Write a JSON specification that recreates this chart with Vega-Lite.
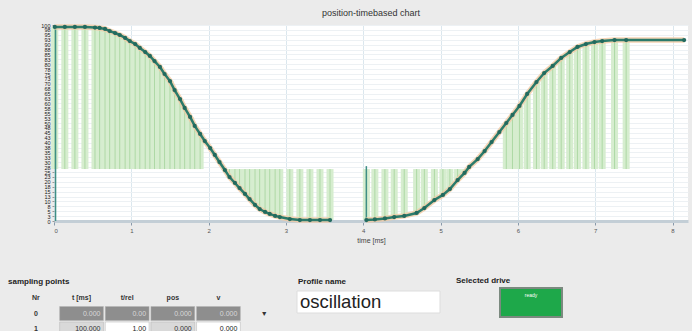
{
  "$schema": "https://vega.github.io/schema/vega-lite/v6.json",
  "background": "#ebebeb",
  "padding": {"left": 0, "top": 8, "right": 0, "bottom": 0},
  "spacing": 34,
  "config": {"view": {"stroke": null}, "font": "Liberation Sans"},
  "datasets": {
    "curve": [
      {"seg": "a", "t": 0.01, "v": 99.0}, {"seg": "a", "t": 0.14, "v": 99.0}, {"seg": "a", "t": 0.27, "v": 99.0},
      {"seg": "a", "t": 0.40, "v": 99.0}, {"seg": "a", "t": 0.53, "v": 98.7}, {"seg": "a", "t": 0.59, "v": 98.5},
      {"seg": "a", "t": 0.66, "v": 98.0}, {"seg": "a", "t": 0.72, "v": 96.9}, {"seg": "a", "t": 0.79, "v": 95.9},
      {"seg": "a", "t": 0.85, "v": 94.9}, {"seg": "a", "t": 0.92, "v": 93.4}, {"seg": "a", "t": 0.98, "v": 91.8},
      {"seg": "a", "t": 1.05, "v": 90.3}, {"seg": "a", "t": 1.11, "v": 88.3}, {"seg": "a", "t": 1.18, "v": 86.2},
      {"seg": "a", "t": 1.24, "v": 84.2}, {"seg": "a", "t": 1.30, "v": 81.6}, {"seg": "a", "t": 1.37, "v": 78.6},
      {"seg": "a", "t": 1.43, "v": 75.0}, {"seg": "a", "t": 1.50, "v": 71.4}, {"seg": "a", "t": 1.56, "v": 66.8},
      {"seg": "a", "t": 1.63, "v": 62.2}, {"seg": "a", "t": 1.69, "v": 57.7}, {"seg": "a", "t": 1.76, "v": 53.1},
      {"seg": "a", "t": 1.82, "v": 48.5}, {"seg": "a", "t": 1.89, "v": 44.4}, {"seg": "a", "t": 1.95, "v": 40.8},
      {"seg": "a", "t": 2.02, "v": 37.2}, {"seg": "a", "t": 2.08, "v": 33.7}, {"seg": "a", "t": 2.14, "v": 30.1},
      {"seg": "a", "t": 2.21, "v": 26.0}, {"seg": "a", "t": 2.27, "v": 22.4}, {"seg": "a", "t": 2.34, "v": 19.4},
      {"seg": "a", "t": 2.40, "v": 16.8}, {"seg": "a", "t": 2.47, "v": 13.8}, {"seg": "a", "t": 2.53, "v": 11.2},
      {"seg": "a", "t": 2.60, "v": 8.2}, {"seg": "a", "t": 2.66, "v": 6.1}, {"seg": "a", "t": 2.73, "v": 4.6},
      {"seg": "a", "t": 2.79, "v": 3.6}, {"seg": "a", "t": 2.86, "v": 2.6}, {"seg": "a", "t": 2.92, "v": 2.0},
      {"seg": "a", "t": 3.05, "v": 1.0}, {"seg": "a", "t": 3.18, "v": 0.5}, {"seg": "a", "t": 3.31, "v": 0.5},
      {"seg": "a", "t": 3.44, "v": 0.5}, {"seg": "a", "t": 3.57, "v": 0.5},
      {"seg": "b", "t": 4.04, "v": 0.5}, {"seg": "b", "t": 4.15, "v": 0.8}, {"seg": "b", "t": 4.28, "v": 1.3},
      {"seg": "b", "t": 4.40, "v": 2.0}, {"seg": "b", "t": 4.53, "v": 2.6}, {"seg": "b", "t": 4.69, "v": 4.1},
      {"seg": "b", "t": 4.79, "v": 6.6}, {"seg": "b", "t": 4.92, "v": 10.7}, {"seg": "b", "t": 5.03, "v": 13.3},
      {"seg": "b", "t": 5.12, "v": 16.3}, {"seg": "b", "t": 5.22, "v": 20.9}, {"seg": "b", "t": 5.31, "v": 24.5},
      {"seg": "b", "t": 5.37, "v": 27.6}, {"seg": "b", "t": 5.48, "v": 31.6}, {"seg": "b", "t": 5.57, "v": 35.7},
      {"seg": "b", "t": 5.66, "v": 40.3}, {"seg": "b", "t": 5.76, "v": 45.4}, {"seg": "b", "t": 5.85, "v": 50.0},
      {"seg": "b", "t": 5.93, "v": 54.1}, {"seg": "b", "t": 6.02, "v": 58.7}, {"seg": "b", "t": 6.12, "v": 64.8},
      {"seg": "b", "t": 6.24, "v": 70.9}, {"seg": "b", "t": 6.34, "v": 75.5}, {"seg": "b", "t": 6.45, "v": 79.1},
      {"seg": "b", "t": 6.56, "v": 83.2}, {"seg": "b", "t": 6.67, "v": 86.2}, {"seg": "b", "t": 6.77, "v": 88.8},
      {"seg": "b", "t": 6.88, "v": 90.3}, {"seg": "b", "t": 6.99, "v": 91.3}, {"seg": "b", "t": 7.09, "v": 91.8},
      {"seg": "b", "t": 7.25, "v": 92.3}, {"seg": "b", "t": 7.40, "v": 92.3}, {"seg": "b", "t": 8.15, "v": 92.3}
    ],
    "markers": [
      {"t": 0.02, "v": 0, "v2": 99},
      {"t": 4.04, "v": 0, "v2": 28}
    ],
    "table": [
      {"row": "header", "col": "Nr", "kind": "header", "text": "Nr", "state": "none"},
      {"row": "header", "col": "t [ms]", "kind": "header", "text": "t [ms]", "state": "none"},
      {"row": "header", "col": "t/rel", "kind": "header", "text": "t/rel", "state": "none"},
      {"row": "header", "col": "pos", "kind": "header", "text": "pos", "state": "none"},
      {"row": "header", "col": "v", "kind": "header", "text": "v", "state": "none"},
      {"row": "0", "col": "Nr", "kind": "label", "text": "0", "state": "none"},
      {"row": "0", "col": "t [ms]", "kind": "cell", "text": "0.000", "state": "selected"},
      {"row": "0", "col": "t/rel", "kind": "cell", "text": "0.00", "state": "selected"},
      {"row": "0", "col": "pos", "kind": "cell", "text": "0.000", "state": "selected"},
      {"row": "0", "col": "v", "kind": "cell", "text": "0.000", "state": "selected"},
      {"row": "0", "col": "menu", "kind": "menu", "text": "▼", "state": "none"},
      {"row": "1", "col": "Nr", "kind": "label", "text": "1", "state": "none"},
      {"row": "1", "col": "t [ms]", "kind": "cell", "text": "100.000", "state": "readonly"},
      {"row": "1", "col": "t/rel", "kind": "cell", "text": "1.00", "state": "editable"},
      {"row": "1", "col": "pos", "kind": "cell", "text": "0.000", "state": "readonly"},
      {"row": "1", "col": "v", "kind": "cell", "text": "0.000", "state": "editable"}
    ]
  },
  "vconcat": [
    {
      "width": 634,
      "height": 196,
      "view": {"fill": "#ffffff", "stroke": null},
      "title": {"text": "position-timebased chart", "fontSize": 9, "fontWeight": "normal", "color": "#333333", "offset": -2, "anchor": "middle"},
      "data": {"name": "curve"},
      "encoding": {
        "x": {"field": "t", "type": "quantitative",
          "scale": {"domain": [0, 8.2], "nice": false, "zero": false},
          "axis": {"values": [0, 1, 2, 3, 4, 5, 6, 7, 8], "format": "d", "labelFontSize": 6, "labelColor": "#555555",
            "tickColor": "#8899aa", "tickSize": 4, "domainColor": "#c3ced6", "domainWidth": 3, "gridColor": "#dbe7ee",
            "title": "time [ms]", "titleFontSize": 7, "titleFontWeight": "normal", "titleColor": "#444444", "titlePadding": 3, "labelPadding": 2}},
        "y": {"field": "v", "type": "quantitative",
          "scale": {"domain": [0, 100], "nice": false},
          "axis": {"values": [0, 2.5, 5, 7.5, 10, 12.5, 15, 17.5, 20, 22.5, 25, 27.5, 30, 32.5, 35, 37.5, 40, 42.5, 45, 47.5, 50, 52.5, 55, 57.5, 60, 62.5, 65, 67.5, 70, 72.5, 75, 77.5, 80, 82.5, 85, 87.5, 90, 92.5, 95, 97.5, 100],
            "labelFontSize": 5.5, "labelOverlap": false, "labelColor": "#222222", "tickSize": 2, "tickColor": "#999999",
            "domain": false, "gridColor": "#edf1f4", "title": null, "minExtent": 54, "maxExtent": 54, "labelPadding": 2, "labelFlush": false}}
      },
      "layer": [
        {
          "transform": [{"filter": "datum.t <= 1.89 || (datum.t >= 2.21 && datum.t <= 3.57) || (datum.t >= 4.04 && datum.t <= 5.31) || (datum.t >= 5.85 && datum.t <= 7.40)"}],
          "mark": {"type": "rule", "color": "#d6edcf", "strokeWidth": 7},
          "encoding": {"y2": {"datum": 26.5}}
        },
        {
          "transform": [{"filter": "datum.t <= 1.89 || (datum.t >= 2.21 && datum.t <= 3.57) || (datum.t >= 4.04 && datum.t <= 5.31) || (datum.t >= 5.85 && datum.t <= 7.40)"}],
          "mark": {"type": "rule", "color": "#a4d39b", "strokeWidth": 1, "opacity": 0.8},
          "encoding": {"y2": {"datum": 26.5}}
        },
        {
          "data": {"name": "markers"},
          "mark": {"type": "rule", "color": "#3f8f86", "strokeWidth": 1.5},
          "encoding": {"x": {"field": "t", "type": "quantitative"}, "y": {"field": "v", "type": "quantitative"}, "y2": {"field": "v2"}}
        },
        {
          "mark": {"type": "line", "color": "#f2c9a2", "strokeWidth": 5.5, "opacity": 0.8},
          "encoding": {"detail": {"field": "seg"}}
        },
        {
          "mark": {"type": "line", "color": "#2b7b6b", "strokeWidth": 2.5},
          "encoding": {"detail": {"field": "seg"}}
        },
        {
          "mark": {"type": "circle", "color": "#236a5e", "size": 18, "opacity": 1}
        }
      ]
    },
    {
      "spacing": 0,
      "hconcat": [
        {
          "width": 236,
          "height": 40,
          "title": {"text": "sampling points", "anchor": "start", "frame": "group", "fontSize": 8, "fontWeight": "bold", "color": "#222222", "offset": 2, "dx": -46},
          "data": {"name": "table"},
          "encoding": {
            "x": {"field": "col", "type": "nominal", "scale": {"domain": ["Nr", "t [ms]", "t/rel", "pos", "v", "menu"], "range": [-40, 232], "paddingInner": 0.04, "paddingOuter": 0}, "axis": null},
            "y": {"field": "row", "type": "nominal", "scale": {"domain": ["header", "0", "1"], "range": [3, 48], "paddingInner": 0.1, "paddingOuter": 0}, "axis": null}
          },
          "layer": [
            {
              "transform": [{"filter": "datum.kind == 'cell'"}],
              "mark": {"type": "rect", "stroke": "#b5b5b5", "strokeWidth": 0.5},
              "encoding": {"color": {"field": "state", "type": "nominal", "scale": {"domain": ["selected", "readonly", "editable"], "range": ["#8e8e8e", "#d9d9d9", "#ffffff"]}, "legend": null}}
            },
            {
              "transform": [{"filter": "datum.kind != 'cell'"}],
              "mark": {"type": "text", "fontSize": 7, "fontWeight": "bold", "color": "#333333"},
              "encoding": {"text": {"field": "text"}}
            },
            {
              "transform": [{"filter": "datum.kind == 'cell'"}],
              "mark": {"type": "text", "fontSize": 7, "align": "right", "dx": -3},
              "encoding": {"x": {"field": "col", "type": "nominal", "bandPosition": 1}, "text": {"field": "text"},
                "color": {"field": "state", "type": "nominal", "scale": {"domain": ["selected", "readonly", "editable"], "range": ["#d8d8d8", "#333333", "#222222"]}, "legend": null}}
            }
          ],
          "resolve": {"scale": {"color": "independent"}}
        },
        {
          "width": 160,
          "height": 40,
          "title": {"text": "Profile name", "anchor": "start", "frame": "group", "fontSize": 8, "fontWeight": "bold", "color": "#222222", "offset": 2, "dx": 8},
          "data": {"values": [{"name": "oscillation"}]},
          "encoding": {
            "x": {"field": "name", "type": "nominal", "scale": {"range": [7, 150], "paddingInner": 0, "paddingOuter": 0}, "axis": null},
            "y": {"field": "name", "type": "nominal", "scale": {"range": [3, 25], "paddingInner": 0, "paddingOuter": 0}, "axis": null}
          },
          "layer": [
            {"mark": {"type": "rect", "fill": "#ffffff", "stroke": "#dddddd"}},
            {"mark": {"type": "text", "align": "left", "dx": 3, "fontSize": 18.5, "color": "#222222"},
             "encoding": {"x": {"field": "name", "type": "nominal", "bandPosition": 0}, "text": {"field": "name"}}}
          ]
        },
        {
          "width": 242,
          "height": 40,
          "title": {"text": "Selected drive", "anchor": "start", "frame": "group", "fontSize": 8, "fontWeight": "bold", "color": "#222222", "offset": 2, "dx": 6},
          "data": {"values": [{"drive": "Drive 1", "status": "ready"}]},
          "encoding": {
            "x": {"field": "drive", "type": "nominal", "scale": {"range": [50, 112], "paddingInner": 0, "paddingOuter": 0}, "axis": null},
            "y": {"field": "drive", "type": "nominal", "scale": {"range": [0, 29], "paddingInner": 0, "paddingOuter": 0}, "axis": null}
          },
          "layer": [
            {"mark": {"type": "rect", "fill": "#1ea84a", "stroke": "#7b8a7f", "strokeWidth": 2}},
            {"mark": {"type": "text", "fontSize": 5, "color": "#ffffff", "dy": -8},
             "encoding": {"text": {"field": "status"}}}
          ]
        }
      ]
    }
  ]
}
